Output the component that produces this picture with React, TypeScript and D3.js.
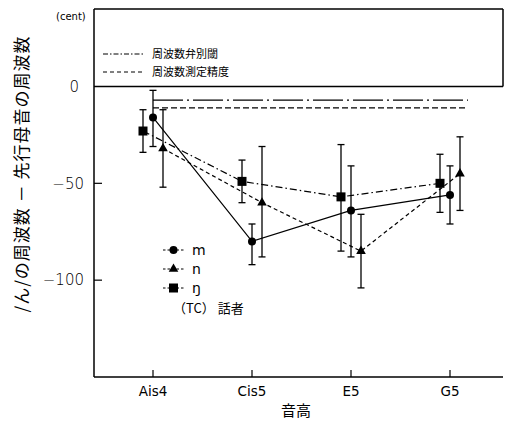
import * as React from 'react';
import * as d3 from 'd3';

const width = 506;
const height = 428;

const categories = ['Ais4', 'Cis5', 'E5', 'G5'];

// m (circles, solid)
const mMean = [-16, -80, -64, -56];
const mUpper = [-2, -71, -41, -41];
const mLower = [-31, -92, -88, -71];

// n (triangles, dashed)
const nMean = [-32, -60, -85, -45];
const nUpper = [-12, -31, -66, -26];
const nLower = [-52, -88, -104, -64];

// ŋ (squares, dash-dot)
const ngMean = [-23, -49, -57, -50];
const ngUpper = [-12, -38, -30, -35];
const ngLower = [-34, -60, -85, -65];

const yTicks = [0, -50, -100];
const thresholdDiscrim = -7;
const thresholdMeasure = -11;

const margin = {left: 94, right: 503, top: 9, bottom: 377};

const x = d3.scalePoint<string>().domain(categories).range([153, 450]);
const y = d3.scaleLinear().domain([-150, 40]).range([margin.bottom, margin.top]);

const font = '"Noto Sans CJK JP", "Noto Sans", sans-serif';

type Series = {
  name: string;
  mean: number[];
  upper: number[];
  lower: number[];
  offset: number;
  dash: string;
  marker: 'circle' | 'triangle' | 'square';
};

const series: Series[] = [
  {name: 'm', mean: mMean, upper: mUpper, lower: mLower, offset: 0, dash: 'none', marker: 'circle'},
  {name: 'n', mean: nMean, upper: nUpper, lower: nLower, offset: 10, dash: '4,3', marker: 'triangle'},
  {name: 'ŋ', mean: ngMean, upper: ngUpper, lower: ngLower, offset: -10, dash: '7,3,1.5,3', marker: 'square'},
];

const Marker = ({kind, cx, cy}: {kind: Series['marker'], cx: number, cy: number}) => {
  if (kind === 'circle') return <circle cx={cx} cy={cy} r={4} fill="#000"/>;
  if (kind === 'square') return <rect x={cx - 4.5} y={cy - 4.5} width={9} height={9} fill="#000"/>;
  const sym = d3.symbol().type(d3.symbolTriangle).size(40)();
  return <path d={sym || ''} transform={`translate(${cx},${cy})`} fill="#000"/>;
};

export default function App() {
  const line = d3.line<[number, number]>();
  const xEnd = (x(categories[categories.length - 1]) as number) + 18;
  const xStart = x(categories[0]) as number;

  return (
    <svg width={width} height={height} style={{position: 'absolute', left: 0, top: 0, background: '#fff'}}
         fontFamily={font}>
      {/* frame */}
      <line x1={margin.left} x2={margin.left} y1={margin.top} y2={margin.bottom} stroke="#000" strokeWidth={1.5}/>
      <line x1={margin.left} x2={margin.right} y1={margin.top} y2={margin.top} stroke="#000" strokeWidth={1.5}/>
      <line x1={margin.right} x2={margin.right} y1={margin.top} y2={y(0)} stroke="#000" strokeWidth={1.5}/>
      <line x1={margin.left} x2={margin.right} y1={margin.bottom} y2={margin.bottom} stroke="#000" strokeWidth={1.5}/>
      <line x1={margin.left} x2={margin.right} y1={y(0)} y2={y(0)} stroke="#000" strokeWidth={1.5}/>

      {/* y ticks */}
      {yTicks.map(t => (
        <g key={t}>
          {t !== 0 && <line x1={margin.left} x2={margin.left + 8} y1={y(t)} y2={y(t)} stroke="#000" strokeWidth={1.2}/>}
          <text x={t === 0 ? 79 : 84} y={y(t)} dy="0.35em" textAnchor="end" fontSize={15}
                fontFamily='"DejaVu Sans", sans-serif' fontWeight={300}>
            {t === 0 ? '0' : `−${-t}`}
          </text>
        </g>
      ))}
      <text x={56} y={20} fontSize={10} fontFamily='"DejaVu Sans", sans-serif'>(cent)</text>

      {/* x ticks */}
      {categories.map(c => (
        <g key={c}>
          <line x1={x(c)} x2={x(c)} y1={margin.bottom} y2={margin.bottom - 7} stroke="#000" strokeWidth={1.2}/>
          <text x={x(c)} y={391} dy="0.35em" textAnchor="middle" fontSize={13.5}
                fontFamily='"DejaVu Sans", sans-serif'>{c}</text>
        </g>
      ))}
      <text x={296} y={411} dy="0.35em" textAnchor="middle" fontSize={15}>音高</text>

      {/* y title */}
      <text transform={`translate(22,${174}) rotate(-90)`} textAnchor="middle" dy="0.35em" fontSize={17}
            letterSpacing={1} fill="#000">
        /ん/の周波数 － 先行母音の周波数
      </text>

      {/* reference lines legend */}
      <line x1={103} x2={143} y1={54} y2={54} stroke="#000" strokeWidth={1} strokeDasharray="5,2,1.5,2"/>
      <text x={152} y={54} dy="0.35em" fontSize={11}>周波数弁別閾</text>
      <line x1={103} x2={143} y1={72} y2={72} stroke="#000" strokeWidth={1} strokeDasharray="4,3"/>
      <text x={152} y={72} dy="0.35em" fontSize={11}>周波数測定精度</text>

      {/* reference lines */}
      <line x1={xStart} x2={xEnd} y1={y(thresholdDiscrim)} y2={y(thresholdDiscrim)} stroke="#000"
            strokeWidth={1.2} strokeDasharray="30,4,2,4"/>
      <line x1={xStart} x2={xEnd} y1={y(thresholdMeasure)} y2={y(thresholdMeasure)} stroke="#000"
            strokeWidth={1.2} strokeDasharray="6,3"/>

      {/* series */}
      {series.map(s => {
        const pts: [number, number][] = categories.map((c, i) => [(x(c) as number) + s.offset, y(s.mean[i])]);
        return (
          <g key={s.name}>
            <path d={line(pts) || ''} fill="none" stroke="#000" strokeWidth={1.2}
                  strokeDasharray={s.dash === 'none' ? undefined : s.dash}/>
            {categories.map((c, i) => {
              const cx = (x(c) as number) + s.offset;
              const y1 = y(s.upper[i]);
              const y2 = y(s.lower[i]);
              return (
                <g key={c}>
                  <line x1={cx} x2={cx} y1={y1} y2={y2} stroke="#000" strokeWidth={1.3}/>
                  <line x1={cx - 3.5} x2={cx + 3.5} y1={y1} y2={y1} stroke="#000" strokeWidth={1.3}/>
                  <line x1={cx - 3.5} x2={cx + 3.5} y1={y2} y2={y2} stroke="#000" strokeWidth={1.3}/>
                  <Marker kind={s.marker} cx={cx} cy={pts[i][1]}/>
                </g>
              );
            })}
          </g>
        );
      })}

      {/* series legend */}
      {series.map((s, i) => {
        const ly = 250 + i * 19;
        return (
          <g key={s.name}>
            <line x1={163} x2={184} y1={ly} y2={ly} stroke="#000" strokeWidth={1} strokeDasharray="2.5,2"/>
            <Marker kind={s.marker} cx={173.5} cy={ly}/>
            <text x={192} y={ly} dy="0.35em" fontSize={14} fontFamily='"DejaVu Sans", sans-serif'>{s.name}</text>
          </g>
        );
      })}
      <text x={173} y={308} dy="0.35em" fontSize={13}>（TC） 話者</text>
    </svg>
  );
}
